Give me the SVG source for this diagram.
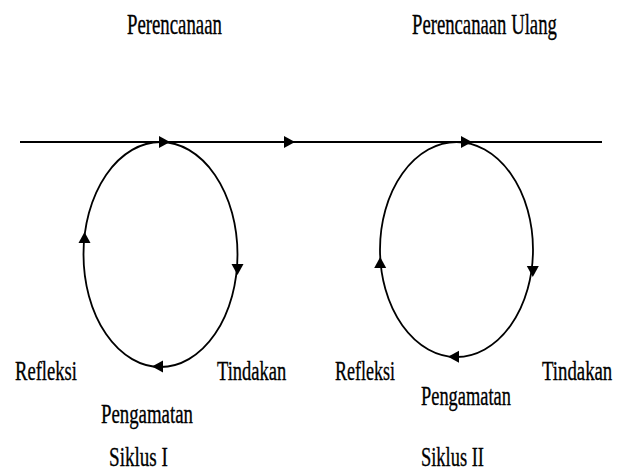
<svg xmlns="http://www.w3.org/2000/svg" width="625" height="472" viewBox="0 0 625 472">
  <style>
    .lbl { font-family: "Liberation Serif", "Times New Roman", serif; font-size: 28px; fill: #000; stroke: #000; stroke-width: 0.35; }
    .top { font-size: 29px; }
    .flow { fill: none; stroke: #000; stroke-width: 2; }
    .loop { fill: none; stroke: #000; stroke-width: 1.8; }
    .ah { fill: #000; }
  </style>
  <defs>
    <path id="ah" class="ah" d="M0,0 L-11,-6 L-11,6 Z"/>
  </defs>
  <rect width="625" height="472" fill="#fff"/>

  <g id="connectors">
    <line class="flow" x1="20" y1="142" x2="602" y2="142"/>
    <ellipse class="loop" cx="160.5" cy="254.5" rx="77" ry="112.5"/>
    <ellipse class="loop" cx="456.5" cy="249.5" rx="76.5" ry="107.5"/>
    <use href="#ah" transform="translate(170,142)"/>
    <use href="#ah" transform="translate(295,142)"/>
    <use href="#ah" transform="translate(472,142)"/>
    <use href="#ah" transform="translate(237.5,275) rotate(90)"/>
    <use href="#ah" transform="translate(84.5,232) rotate(-90)"/>
    <use href="#ah" transform="translate(152,366.5) rotate(180)"/>
    <use href="#ah" transform="translate(532.8,277) rotate(90)"/>
    <use href="#ah" transform="translate(380.2,257) rotate(-90)"/>
    <use href="#ah" transform="translate(448,356.7) rotate(180)"/>
  </g>

  <g id="perencanaan"><text class="lbl top" transform="translate(127,34) scale(0.648,1)">Perencanaan</text></g>
  <g id="perencanaan-ulang"><text class="lbl top" transform="translate(412,34) scale(0.645,1)">Perencanaan Ulang</text></g>
  <g id="refleksi-1"><text class="lbl" transform="translate(15,380) scale(0.664,1)">Refleksi</text></g>
  <g id="tindakan-1"><text class="lbl" transform="translate(217,380) scale(0.662,1)">Tindakan</text></g>
  <g id="pengamatan-1"><text class="lbl" transform="translate(101,423) scale(0.672,1)">Pengamatan</text></g>
  <g id="siklus-1"><text class="lbl" transform="translate(109,466) scale(0.683,1)">Siklus I</text></g>
  <g id="refleksi-2"><text class="lbl" transform="translate(335,380) scale(0.643,1)">Refleksi</text></g>
  <g id="tindakan-2"><text class="lbl" transform="translate(542,380) scale(0.671,1)">Tindakan</text></g>
  <g id="pengamatan-2"><text class="lbl" transform="translate(421,405) scale(0.657,1)">Pengamatan</text></g>
  <g id="siklus-2"><text class="lbl" transform="translate(421,466) scale(0.658,1)">Siklus II</text></g>
</svg>
